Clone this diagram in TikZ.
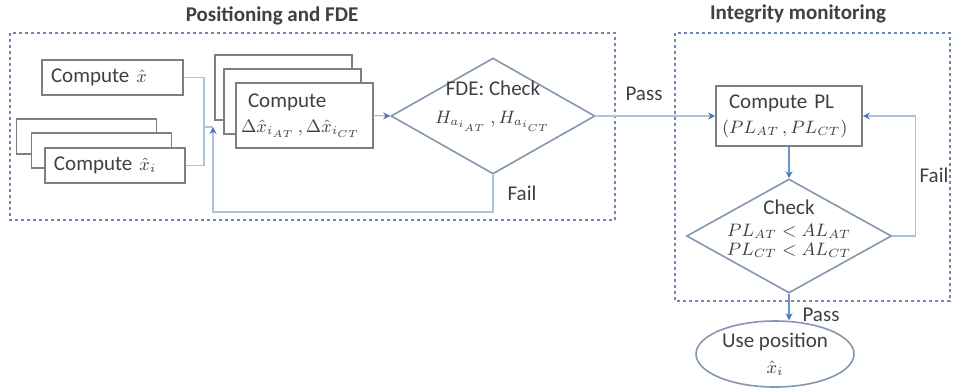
\documentclass[tikz,border=0pt]{standalone}
\usepackage{amsmath}
\usepackage{fontspec}
\setmainfont{Carlito}
\usetikzlibrary{shapes,arrows.meta,calc}
\definecolor{txtgray}{HTML}{404040}
\definecolor{boxgray}{HTML}{7F7F7F}
\definecolor{dmdblue}{HTML}{8497B0}
\definecolor{lineblue}{HTML}{AFC2DA}
\definecolor{tipblue}{HTML}{4A76BC}
\definecolor{frameblue}{HTML}{6A87B8}
\tikzset{
  box/.style={draw=boxgray,line width=.8pt,fill=white,text=txtgray,
    inner xsep=4.5pt,inner ysep=0pt,align=left,font=\fontsize{10.5}{12.5}\selectfont},
  decision/.style={diamond,draw=dmdblue,line width=.8pt,fill=white,inner sep=0pt},
  dtext/.style={align=center,text=txtgray,font=\fontsize{10.5}{14}\selectfont},
  useit/.style={ellipse,draw=dmdblue,line width=.8pt,fill=white,inner sep=0pt,
    minimum width=79pt,minimum height=33pt,align=center,text=txtgray,
    font=\fontsize{10.5}{13}\selectfont},
  lbl/.style={text=txtgray,font=\fontsize{10.5}{12}\selectfont},
  ttl/.style={text=txtgray,font=\fontsize{10.5}{12}\selectfont\bfseries},
  frame/.style={draw=frameblue,line width=.8pt,dash pattern=on 1.5pt off 1.5pt},
  conn/.style={draw=lineblue,line width=.7pt},
  arr/.style={conn,-{Stealth[length=3.5pt,width=3.5pt,color=tipblue]}},
  darr/.style={draw=tipblue!80,line width=.8pt,-{Stealth[length=3.5pt,width=3.5pt,color=tipblue]}}
}
\newcommand{\smath}[1]{{\fontsize{9}{11}\selectfont$#1$}}
\begin{document}
\begin{tikzpicture}[x=.5pt,y=-.5pt]
\useasboundingbox (0,0) rectangle (958,388);
%frames
\draw[frame](10,33)rectangle(615,220);
\draw[frame](675,33)rectangle(950,301);
\node[ttl] (ttl1) at (272,16) {Positioning and FDE};
\node[ttl] (ttl2) at (798,14) {Integrity monitoring};
%inputs
\node[box,text width=61.5pt,minimum height=17.5pt] (cx) at (112.5,77.5) {Compute \smath{\hat{x}}};
\foreach \n/\x/\y in {2/86.5/136.5,1/101.5/150.5}
  \node[box,text width=61pt,minimum height=17.5pt] (xi\n) at (\x,\y) {};
\node[box,text width=61pt,minimum height=17.5pt] (xi) at (115,165.5) {Compute \smath{\hat{x}_i}};
%delta
\foreach \n/\x/\y in {2/283.5/87.5,1/292.5/101.5}
  \node[box,text width=63.5pt,inner xsep=2.5pt,minimum height=32.5pt] (dl\n) at (\x,\y) {};
\node[box,text width=63.5pt,inner xsep=2.5pt,minimum height=32.5pt] (dl) at (304.5,115.5)
  {\ Compute\\\mbox{\smath{\Delta\hat{x}_{i_{AT}}\,,\Delta\hat{x}_{i_{CT}}}}};
%fde
\node[decision,minimum width=102pt,minimum height=58pt] (fde) at (493,116) {};
\node[dtext] (fdetxt) at (493,106) {FDE: Check\\\smath{H_{a_{i_{AT}}}\,,H_{a_{i_{CT}}}}};
%integrity
\node[box,text width=67pt,inner xsep=3pt,minimum height=30pt] (pl) at (789,116)
  {\ Compute PL\\\mbox{\smath{(PL_{AT}\,,PL_{CT})}}};
\node[decision,minimum width=102.5pt,minimum height=57pt] (chk) at (789,236) {};
\node[dtext] (chktxt) at (789,229)
  {Check\\[-3pt]\smath{PL_{AT} < AL_{AT}}\\[-4.5pt]\smath{PL_{CT} < AL_{CT}}};
\node[useit] (use) at (775,354) {Use position\\\smath{\hat{x}_i}};
%connectors
\coordinate (m) at (213,127);
\draw[conn](cx.east)--++(20,0)|-(m);
\draw[conn](xi.east)--++(18,0)|-(m);
\draw[arr](fde.south)--++(0,37)-|(m);
\draw[arr](dl.east)--(fde.west);
\draw[arr](fde.east)--(pl.west);
\draw[darr](pl.south)--(chk.north);
\draw[arr](chk.east)--++(23,0)|-(pl.east);
\draw[darr](chk.south)--(chk.south|-use.north);
%labels
\node[lbl] (pass1) at (644,94) {Pass};
\node[lbl] (fail1) at (522,193) {Fail};
\node[lbl] (fail2) at (934,175) {Fail};
\node[lbl] (pass2) at (821,315) {Pass};
\end{tikzpicture}
\end{document}
